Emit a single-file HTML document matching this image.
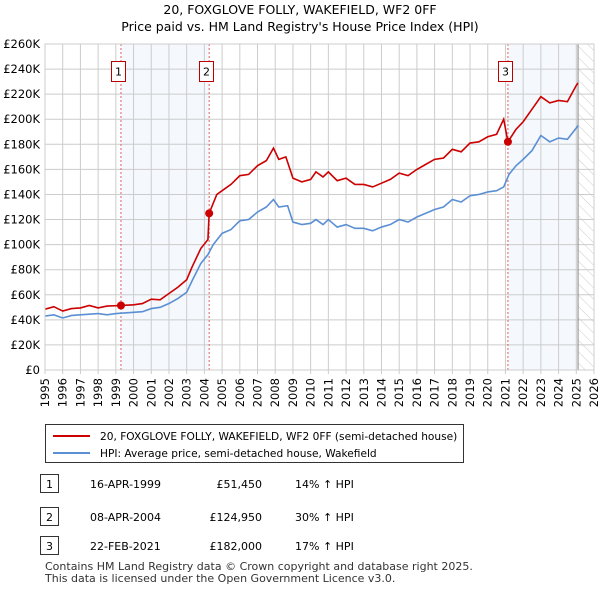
<!DOCTYPE html>
<html><head><meta charset="utf-8"><style>
body{margin:0;background:#fff;font-family:"Liberation Sans",sans-serif;}
svg text{font-family:"DejaVu Sans","Liberation Sans",sans-serif;}
</style></head><body>
<svg width="600" height="590" xmlns="http://www.w3.org/2000/svg" id="chart">
<defs><pattern id="hatch" width="8" height="8" patternUnits="userSpaceOnUse" patternTransform="rotate(-45)"><line x1="0" y1="0" x2="0" y2="8" stroke="#ccc" stroke-width="1"/></pattern></defs>
<text x="300" y="14" text-anchor="middle" font-size="12.5">20, FOXGLOVE FOLLY, WAKEFIELD, WF2 0FF</text>
<text x="300" y="31" text-anchor="middle" font-size="12.5">Price paid vs. HM Land Registry's House Price Index (HPI)</text>
<g id="plot"></g>
<g>
<rect x="45.5" y="424.5" width="418" height="38" fill="#fff" stroke="#333"/>
<line x1="53" y1="436" x2="90" y2="436" stroke="#cc0000" stroke-width="2"/>
<text x="100" y="440" font-size="10.6">20, FOXGLOVE FOLLY, WAKEFIELD, WF2 0FF (semi-detached house)</text>
<line x1="53" y1="453" x2="90" y2="453" stroke="#5b8fd4" stroke-width="2"/>
<text x="100" y="457" font-size="10.6">HPI: Average price, semi-detached house, Wakefield</text>
</g>
<g font-size="11">
<rect x="40.5" y="474.5" width="18" height="18" fill="#fff" stroke="#333"/><text x="49.5" y="488" text-anchor="middle">1</text>
<text x="90" y="488">16-APR-1999</text><text x="262" y="488" text-anchor="end">£51,450</text><text x="295" y="488">14% ↑ HPI</text>
<rect x="40.5" y="507.5" width="18" height="18" fill="#fff" stroke="#333"/><text x="49.5" y="521" text-anchor="middle">2</text>
<text x="90" y="521">08-APR-2004</text><text x="262" y="521" text-anchor="end">£124,950</text><text x="295" y="521">30% ↑ HPI</text>
<rect x="40.5" y="536.5" width="18" height="18" fill="#fff" stroke="#333"/><text x="49.5" y="550" text-anchor="middle">3</text>
<text x="90" y="550">22-FEB-2021</text><text x="262" y="550" text-anchor="end">£182,000</text><text x="295" y="550">17% ↑ HPI</text>
</g>
<text x="45" y="570" font-size="11" fill="#333">Contains HM Land Registry data © Crown copyright and database right 2025.</text>
<text x="45" y="582" font-size="11" fill="#333">This data is licensed under the Open Government Licence v3.0.</text>
</svg>
<script>
const yearTicks=[1995,1996,1997,1998,1999,2000,2001,2002,2003,2004,2005,2006,2007,2008,2009,2010,2011,2012,2013,2014,2015,2016,2017,2018,2019,2020,2021,2022,2023,2024,2025,2026];
const priceTicks=[0,20,40,60,80,100,120,140,160,180,200,220,240,260];
const hpiYears=[1995,1995.5,1996,1996.5,1997,1997.5,1998,1998.5,1999,1999.5,2000,2000.5,2001,2001.5,2002,2002.5,2003,2003.3,2003.8,2004.2,2004.5,2005,2005.5,2006,2006.5,2007,2007.5,2007.9,2008.2,2008.7,2009,2009.5,2010,2010.3,2010.7,2011,2011.5,2012,2012.5,2013,2013.5,2014,2014.5,2015,2015.5,2016,2016.5,2017,2017.5,2018,2018.5,2019,2019.5,2020,2020.5,2020.9,2021.2,2021.6,2022,2022.5,2023,2023.5,2024,2024.5,2025,2025.1];
const hpiValues=[43,44,41.5,43.5,44,44.5,45,44,45,45.5,46,46.5,49,50,53,57,62,71,85,92,100,109,112,119,120,126,130,136,130,131,118,116,117,120,116,120,114,116,113,113,111,114,116,120,118,122,125,128,130,136,134,139,140,142,143,146,156,163,168,175,187,182,185,184,193,195];
const priceYears=[1995,1995.5,1996,1996.5,1997,1997.5,1998,1998.5,1999.29,2000,2000.5,2001,2001.5,2002,2002.5,2003,2003.3,2003.8,2004.2,2004.27,2004.7,2005,2005.5,2006,2006.5,2007,2007.5,2007.9,2008.2,2008.6,2009,2009.5,2010,2010.3,2010.7,2011,2011.5,2012,2012.5,2013,2013.5,2014,2014.5,2015,2015.5,2016,2016.5,2017,2017.5,2018,2018.5,2019,2019.5,2020,2020.5,2020.9,2021.14,2021.6,2022,2022.5,2023,2023.5,2024,2024.5,2025,2025.1];
const priceValues=[48.5,50.5,47,49,49.5,51.5,49.5,51,51.45,52,53,56.5,56,61,66,72,82,97,104,124.95,140,143,148,155,156,163,167,177,168,170,153,150,152,158,154,158,151,153,148,148,146,149,152,157,155,160,164,168,169,176,174,181,182,186,188,200,182,192,198,208,218,213,215,214,227,229];
const saleLabels=["1","2","3"];
const saleYears=[1999.29,2004.27,2021.14];
const saleValues=[51.45,124.95,182];
const X0=45,X1=594,Y0=370,Y1=44;
const xs=y=>X0+(y-1995)*(X1-X0)/31;
const ys=v=>Y0-v*(Y0-Y1)/260;
const NS="http://www.w3.org/2000/svg";
const g=document.getElementById('plot');
function mk(t,a){const e=document.createElementNS(NS,t);for(const k in a)e.setAttribute(k,a[k]);g.appendChild(e);return e;}
let e;
e=mk('rect',{x:xs(1999.29),y:Y1,width:xs(2004.27)-xs(1999.29),height:Y0-Y1,fill:'#eef3fc',opacity:0.6});


e=mk('rect',{x:xs(2021.14),y:Y1,width:xs(2025.1)-xs(2021.14),height:Y0-Y1,fill:'#eef3fc',opacity:0.6});


e=mk('rect',{x:xs(2025.1),y:Y1,width:X1-xs(2025.1),height:Y0-Y1,fill:'url(#hatch)'});


yearTicks.forEach(y=>{
 e=mk('line',{x1:xs(y),x2:xs(y),y1:Y1,y2:Y0+4,stroke:'#ccc'});
 
 
 e=mk('text',{x:0,y:0,'font-size':11.5,'text-anchor':'end',transform:`translate(${xs(y)+4},${Y0+8}) rotate(-90)`});
 e.textContent=y;
 
 
});
priceTicks.forEach(v=>{
 e=mk('line',{x1:X0,x2:X1,y1:ys(v),y2:ys(v),stroke:'#ccc'});
 
 
 e=mk('text',{x:40,y:ys(v)+4,'font-size':11.5,'text-anchor':'end'});
 e.textContent=v===0?'£0':'£'+v+'K';
 
 
});
e=mk('line',{x1:xs(2025.1),x2:xs(2025.1),y1:Y1,y2:Y0,stroke:'#888'});


saleYears.forEach((y,i)=>{
 e=mk('line',{x1:xs(y),x2:xs(y),y1:Y1,y2:Y0,stroke:'#e06060','stroke-dasharray':'2,2'});
 
 
});
e=mk('polyline',{points:hpiYears.map((y,i)=>xs(y)+','+ys(hpiValues[i])).join(' '),fill:'none',stroke:'#5b8fd4','stroke-width':1.6});


e=mk('polyline',{points:priceYears.map((y,i)=>xs(y)+','+ys(priceValues[i])).join(' '),fill:'none',stroke:'#cc0000','stroke-width':1.6});


saleYears.forEach((y,i)=>{
 e=mk('circle',{cx:xs(y),cy:ys(saleValues[i]),r:4,fill:'#cc0000'});
 
 
 const cx=Math.round(xs(y))-3;
 e=mk('rect',{x:cx-6.5,y:61.5,width:14,height:20,fill:'#fff',stroke:'#b00'});
 
 
 e=mk('text',{x:cx+0.5,y:75.5,'font-size':11,'text-anchor':'middle'});
 e.textContent=saleLabels[i];
 
 
});
e=mk('rect',{x:X0,y:Y1,width:X1-X0,height:Y0-Y1,fill:'none',stroke:'#ccc'});


</script>
</body></html>
